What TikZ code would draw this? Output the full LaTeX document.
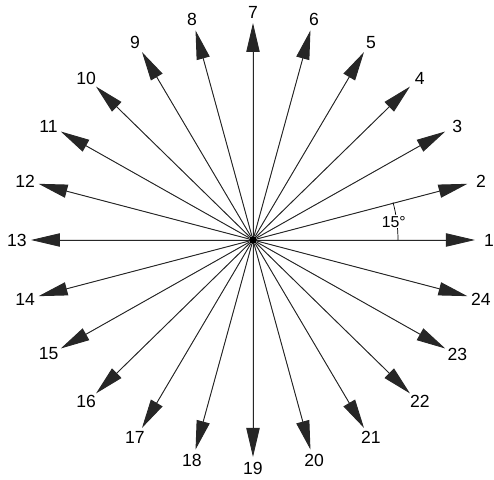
\documentclass[tikz,border=0pt]{standalone}
\usepackage{fontspec}
\setmainfont{Liberation Sans}
\usetikzlibrary{arrows.meta}

\begin{document}
\begin{tikzpicture}[x=0.03cm, y=0.03cm,
  >={Triangle[length=0.87cm, width=0.40cm]},
  ray/.style={->, line width=0.8pt, draw=black!85, fill=black},
  num/.style={font=\fontsize{15}{18}\selectfont, inner sep=0pt},
  hub/.style={circle, fill=black, inner sep=0pt, minimum size=0.24cm}]
  \useasboundingbox (-253,-240) rectangle (241,240);

  \node[hub] (c) at (0,0) {};

  % 24 directions, 15 degrees apart
  \foreach \i in {1,...,24}{
    \pgfmathsetmacro{\ang}{(\i-1)*15}
    \coordinate (t\i) at (\ang:222 and 217);
    \node[num] (l\i) at (\ang:236 and 228) {\i};
    \draw[ray] (c) -- (t\i);
  }

  % angle between 1 and 2
  \draw[line width=0.6pt] (0:145) arc[start angle=0, end angle=15, radius=145];
  \node[num, fill=white, inner sep=1pt, font=\fontsize{13.5}{16}\selectfont] (deg) at (7.4:142) {15°};
\end{tikzpicture}
\end{document}
